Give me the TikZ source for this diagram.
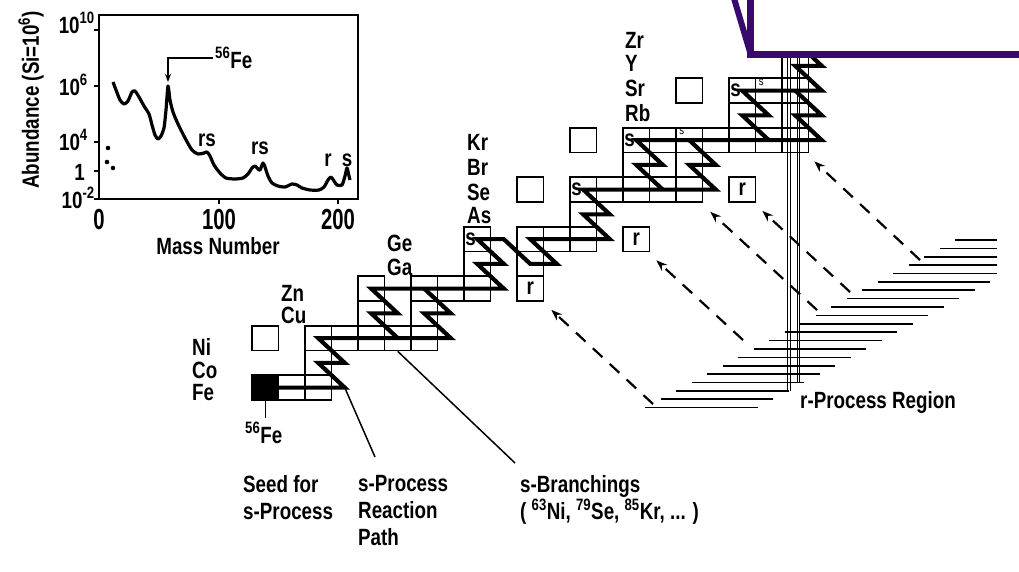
\documentclass[tikz,border=0pt]{standalone}
\usepackage{fontspec}
\setmainfont{Liberation Sans}[FakeStretch=0.8]
\newfontfamily\ticknum{Liberation Sans}[FakeStretch=0.7]
\usetikzlibrary{arrows.meta}
\definecolor{boxviolet}{RGB}{56,10,110}

\begin{document}
\begin{tikzpicture}[
	x=1pt, y=-1pt,
	lbl/.style = {font=\bfseries\fontsize{23.5}{27}\selectfont, inner sep=0pt},
	tick/.style = {font=\ticknum\bfseries\fontsize{29}{29}\selectfont, inner sep=0pt},
	cell/.style = {draw, line width=1.7pt, minimum width=26.5pt, minimum height=24.75pt, inner sep=0pt},
	seed/.style = {cell, fill=black},
	rbox/.style = {cell, font=\bfseries\fontsize{23.5}{27}\selectfont},
	slbl/.style = {font=\bfseries\fontsize{23.5}{27}\selectfont, inner sep=0pt, anchor=west},
	tinys/.style = {font=\fontsize{12}{12}\selectfont, inner sep=0pt, anchor=north west},
	spath/.style = {line width=4.2pt, line join=miter},
	ptr/.style = {line width=1.5pt},
	rarrow/.style = {-{Stealth[length=11pt, width=8pt]}, line width=2.2pt, dash pattern=on 13pt off 10pt},
	hatch/.style = {line width=1.6pt},
	shell/.style = {line width=1pt},
	curve/.style = {line width=3.2pt, line join=round}
	]
	\useasboundingbox (0,0) rectangle (1019,571);

	\draw[line width=2pt] (99,15) rectangle (358,199);
	\foreach \ty in {30,86,142,171,199} \draw[line width=1.8pt] (94,\ty) -- (99,\ty);
	\foreach \tx in {219,338} \draw[line width=1.8pt] (\tx,199) -- (\tx,204);
	\node[lbl, anchor=base east] (y10) at (95,33) {10\textsuperscript{10}};
	\node[lbl, anchor=base east] (y6) at (88,95) {10\textsuperscript{6}};
	\node[lbl, anchor=base east] (y4) at (88,150) {10\textsuperscript{4}};
	\node[lbl, anchor=base east] (y0) at (85,180) {1};
	\node[lbl, anchor=base east] (ym2) at (95,208) {10\textsuperscript{-2}};
	\node[tick, anchor=base] (x0) at (99,229) {0};
	\node[tick, anchor=base] (x100) at (219,229) {100};
	\node[tick, anchor=base] (x200) at (338,229) {200};
	\node[lbl] (xlab) at (218,246) {Mass Number};
	\node[lbl, rotate=90] (ylab) at (31,100) {Abundance (Si=10\textsuperscript{6})};
	\draw[curve] plot[smooth, tension=0.4] coordinates {(113,82) (116,90) (120,100) (124,104) (128,101) (132,92) (135,91) (139,97) (144,106) (149,114) (152,125) (155,135) (158,139) (161,136) (164,128) (166,110) (168,86) (170,100) (173,112) (178,124) (185,138) (192,150) (198,154) (204,153) (207,152) (210,156) (214,165) (220,173) (226,178) (235,179) (243,178) (248,174) (252,168) (255,166) (258,169) (260,170) (263,163) (265,167) (268,176) (272,183) (278,186) (285,187) (292,184) (297,185) (302,188) (310,190) (319,190) (324,187) (328,180) (331,177) (334,181) (337,185) (342,185) (345,176) (347,168) (349,176) (350,180)};
	\fill (108,148) circle (2.3) (107,162) circle (2.3) (113,168) circle (2.3);
	\node[lbl, anchor=base west] (fepk) at (215,68) {\textsuperscript{56}Fe};
	\coordinate (fepeak) at (168,82);
	\draw[line width=1.5pt, -{Stealth[length=8pt, width=6pt]}] ([xshift=-2pt]fepk.west) -| (fepeak);
	\node[lbl] (rs1) at (207,140) {rs};
	\node[lbl] (rs2) at (260,148) {rs};
	\node[lbl] (rpk) at (328,160) {r};
	\node[lbl] (spk) at (347,160) {s};

	\foreach \k in {0,...,20} {
		\pgfmathsetmacro{\ya}{240+8.38*\k}
		\pgfmathsetmacro{\xa}{955-15.5*\k}
		\pgfmathsetmacro{\xb}{min(997,1067.5-15.5*\k)}
		\draw[hatch] (\xa,\ya) -- (\xb,\ya);
	}
	\draw[shell] (787.5,40) -- (787.5,391) (790,40) -- (790,391);
	\draw[shell] (797,40) -- (797,383) (799.5,40) -- (799.5,383);

	\begin{scope}[shift={(252,400)}, x=26.5pt, y=24.75pt]
		\foreach \i in {0,...,21} \foreach \j in {0,...,14} \coordinate (p-\i-\j) at (\i+0.5,\j+0.5);
		\node[seed] (c-0-0) at (p-0-0) {};
		\foreach \i/\j in {1/0,2/0,2/1,2/2,3/2,4/2,5/2,6/2,4/3,6/3,4/4,6/4,7/4,8/4,8/5,10/5,8/6,10/6,11/6,12/6,12/7,12/8,13/8,14/8,15/8,16/8,14/9,15/9,16/9,14/10,15/10,16/10,17/10,18/10,19/10,20/10,18/11,19/11,20/11,18/12,19/12,20/12,20/13,20/14}
			\node[cell] (c-\i-\j) at (p-\i-\j) {};
		\foreach \i/\j in {0/2,10/8,12/10,16/12}
			\node[cell] (e-\i-\j) at (p-\i-\j) {};
		\foreach \i/\j in {10/4,14/6,18/8}
			\node[rbox] (r-\i-\j) at (p-\i-\j) {r};
		\foreach \i/\j in {8/6,12/8,14/10,18/12}
			\node[slbl] (s-\i-\j) at ([xshift=2pt]c-\i-\j.west) {s};
		\foreach \i/\j in {16/10,19/12}
			\node[tinys] (s-\i-\j) at ([xshift=4pt,yshift=-1pt]c-\i-\j.north west) {s};
	\end{scope}

	\draw[spath] (p-0-0) -- (p-3-0) -- (p-2-1) -- (p-3-1) -- (p-2-2) -- (p-7-2) -- (p-6-3) -- (p-7-3) -- (p-6-4);
	\draw[spath] (p-5-2) -- (p-4-3) -- (p-5-3) -- (p-4-4) -- (p-9-4) -- (p-8-5) -- (p-9-5) -- (p-8-6) -- (p-9-6) -- (p-10-5) -- (p-11-5) -- (p-10-6) -- (p-13-6) -- (p-12-7) -- (p-13-7) -- (p-12-8) -- (p-17-8) -- (p-16-9) -- (p-17-9) -- (p-16-10);
	\draw[spath] (p-15-8) -- (p-14-9) -- (p-15-9) -- (p-14-10) -- (p-21-10) -- (p-20-11) -- (p-21-11) -- (p-20-12);
	\draw[spath] (p-19-10) -- (p-18-11) -- (p-19-11) -- (p-18-12) -- (p-21-12) -- (p-20-13) -- (p-21-13) -- (p-20-14) -- (p-21-14);

	\node[lbl, anchor=west] (el-Ni) at (192,347) {Ni};
	\node[lbl, anchor=west] (el-Co) at (192,370) {Co};
	\node[lbl, anchor=west] (el-Fe) at (192,393) {Fe};
	\node[lbl, anchor=west] (el-Zn) at (281,293) {Zn};
	\node[lbl, anchor=west] (el-Cu) at (281,315) {Cu};
	\node[lbl, anchor=west] (el-Ge) at (387,243) {Ge};
	\node[lbl, anchor=west] (el-Ga) at (387,267) {Ga};
	\node[lbl, anchor=west] (el-Kr) at (467,142) {Kr};
	\node[lbl, anchor=west] (el-Br) at (467,167) {Br};
	\node[lbl, anchor=west] (el-Se) at (467,192) {Se};
	\node[lbl, anchor=west] (el-As) at (467,216) {As};
	\node[lbl, anchor=west] (el-Zr) at (625,40) {Zr};
	\node[lbl, anchor=west] (el-Y) at (625,63) {Y};
	\node[lbl, anchor=west] (el-Sr) at (625,88) {Sr};
	\node[lbl, anchor=west] (el-Rb) at (625,113) {Rb};

	\node[lbl, anchor=base west] (fe56) at (245,443) {\textsuperscript{56}Fe};
	\node[lbl, anchor=north west, align=left] (seedlbl) at (243,475) {Seed for\\s-Process};
	\node[lbl, anchor=north west, align=left] (react) at (358,475) {s-Process\\Reaction\\Path};
	\node[lbl, anchor=north west, align=left] (branch) at (520,475) {s-Branchings\\( \textsuperscript{63}Ni, \textsuperscript{79}Se, \textsuperscript{85}Kr, ... )};
	\node[lbl, anchor=base west] (rreg) at (800,408) {r-Process Region};

	\draw[ptr, shorten >=4pt] (c-0-0.south) -- (c-0-0.south |- fe56.north);
	\draw[ptr] (p-3-0) -- ([xshift=17pt,yshift=18pt]react.north west);
	\draw[ptr] (c-5-2.south) -- ([xshift=-5pt,yshift=12pt]branch.north west);

	\coordinate (t0) at (653,404);
	\coordinate (t1) at (743,340);
	\coordinate (t2) at (817,310);
	\coordinate (t3) at (850,292);
	\coordinate (t4) at (920,260);
	\draw[rarrow] (t0) -- ([xshift=7pt,yshift=-8pt]r-10-4.south east);
	\draw[rarrow] (t1) -- ([xshift=6pt,yshift=-8pt]r-14-6.south east);
	\draw[rarrow] (t2) -- ([xshift=7pt,yshift=-9pt]c-16-8.south east);
	\draw[rarrow] (t3) -- ([xshift=6pt,yshift=-8pt]r-18-8.south east);
	\draw[rarrow] (t4) -- ([xshift=5pt,yshift=-8pt]c-20-10.south east);

	\draw[boxviolet, line width=7pt, fill=white] (750,-20) -- (750,54) -- (1040,54) -- (1040,-20) -- cycle;
	\draw[boxviolet, line width=6pt] (733,-5) -- (750,52);
\end{tikzpicture}
\end{document}
